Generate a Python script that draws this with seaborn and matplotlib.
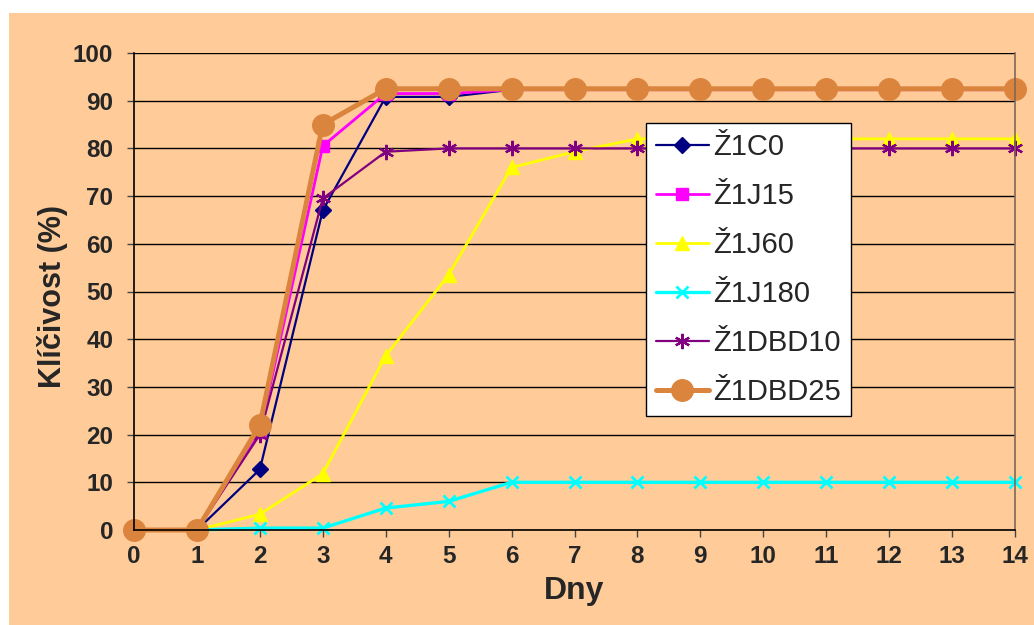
import matplotlib
matplotlib.use("Agg")
import matplotlib.pyplot as plt
from matplotlib.patches import Rectangle
import seaborn as sns
import pandas as pd

# Germination over time for each treatment
days = list(range(15))
z1c0 = [0, 0, 12.7, 67.0, 90.8, 90.8, 92.3, 92.3, 92.3, 92.3, 92.3, 92.3, 92.3, 92.3, 92.3]
z1j15 = [0, 0, 20.5, 80.5, 91.5, 91.5, 92.3, 92.3, 92.3, 92.3, 92.3, 92.3, 92.3, 92.3, 92.3]
z1j60 = [0, 0, 3.3, 11.8, 36.5, 53.5, 76.0, 79.3, 82.0, 82.0, 82.0, 82.0, 82.0, 82.0, 82.0]
z1j180 = [0, 0, 0.4, 0.4, 4.6, 6.0, 10.0, 10.0, 10.0, 10.0, 10.0, 10.0, 10.0, 10.0, 10.0]
z1dbd10 = [0, 0, 20.0, 69.5, 79.3, 80.0, 80.0, 80.0, 80.0, 80.0, 80.0, 80.0, 80.0, 80.0, 80.0]
z1dbd25 = [0, 0, 22.0, 85.0, 92.5, 92.5, 92.5, 92.5, 92.5, 92.5, 92.5, 92.5, 92.5, 92.5, 92.5]

series_names = ["Ž1C0", "Ž1J15", "Ž1J60", "Ž1J180", "Ž1DBD10", "Ž1DBD25"]
series_values = [z1c0, z1j15, z1j60, z1j180, z1dbd10, z1dbd25]

y_ticks = list(range(0, 101, 10))

styles = {
    "Ž1C0":    dict(color="#000080", marker="D", markersize=8, lw=1.6),
    "Ž1J15":   dict(color="#FF00FF", marker="s", markersize=8.5, lw=2.0),
    "Ž1J60":   dict(color="#FFFF00", marker="^", markersize=10.5, lw=2.0),
    "Ž1J180":  dict(color="#00FFFF", marker="x", markersize=9, lw=2.4, mew=2.0),
    "Ž1DBD10": dict(color="#800080", marker=(6, 2, 0), markersize=11, lw=1.6, mew=1.6),
    "Ž1DBD25": dict(color="#DB843D", marker="o", markersize=15.5, lw=3.6),
}

peach = "#FFCC99"

sns.set_theme(style="white")
plt.rcParams["font.family"] = ["Liberation Sans", "DejaVu Sans"]

W, H = 1034, 625
fig = plt.figure(figsize=(W / 100, H / 100), dpi=100, facecolor="white")
fig.patches.append(Rectangle((9 / W, 0), (W - 9) / W, 612 / H,
                             transform=fig.transFigure, facecolor=peach,
                             edgecolor="none", zorder=-10))
ax_l, ax_r, ax_t, ax_b = 134, 1015, 53, 530
ax = fig.add_axes([ax_l / W, 1 - ax_b / H, (ax_r - ax_l) / W, (ax_b - ax_t) / H])
ax.set_facecolor(peach)

for name, vals in zip(series_names, series_values):
    st = styles[name]
    df = pd.DataFrame({"Dny": days, "val": vals})
    sns.lineplot(data=df, x="Dny", y="val", ax=ax, label=name,
                 color=st["color"], marker=st["marker"],
                 markersize=st["markersize"], linewidth=st["lw"],
                 markeredgecolor=st["color"],
                 markeredgewidth=st.get("mew", 1.0), clip_on=False)

ax.set_xlim(0, 14)
ax.set_ylim(0, 100)
ax.set_xticks(days)
ax.set_yticks(y_ticks)
ax.yaxis.grid(True, color="black", linewidth=1.0)
ax.set_axisbelow(True)

ax.spines["top"].set_visible(False)
ax.spines["left"].set_color("black")
ax.spines["bottom"].set_color("black")
ax.spines["right"].set_color("#7F6858")
for s in ["left", "bottom", "right"]:
    ax.spines[s].set_linewidth(1.2)

ax.tick_params(axis="both", which="major", direction="out", length=5,
               width=1.0, color="#444444", labelsize=17.5, pad=6,
               bottom=True, left=True)
ax.tick_params(axis="y", pad=10)
for lab in ax.get_xticklabels() + ax.get_yticklabels():
    lab.set_fontweight("bold")

ax.set_xlabel("Dny", fontsize=23, fontweight="bold")
ax.set_ylabel("Klíčivost (%)", fontsize=22, fontweight="bold")
ax.xaxis.set_label_coords(0.5, (ax_b - 591) / (ax_b - ax_t), transform=ax.transAxes)
ax.xaxis.label.set_va("center")
ax.yaxis.set_label_coords((53 - ax_l) / (ax_r - ax_l), (ax_b - 296) / (ax_b - ax_t),
                          transform=ax.transAxes)
ax.yaxis.label.set_va("center")

leg = ax.legend(loc="upper left",
                bbox_to_anchor=((646 - ax_l) / (ax_r - ax_l), (ax_b - 123) / (ax_b - ax_t)),
                frameon=True, fancybox=False, fontsize=21,
                handlelength=1.8, handletextpad=0.15, labelspacing=0.72,
                borderpad=0.35, borderaxespad=0)
leg.get_frame().set_edgecolor("black")
leg.get_frame().set_linewidth(1.0)
leg.get_frame().set_facecolor("white")
leg.get_frame().set_alpha(1.0)

fig.savefig("out.png", dpi=100, facecolor="white")
